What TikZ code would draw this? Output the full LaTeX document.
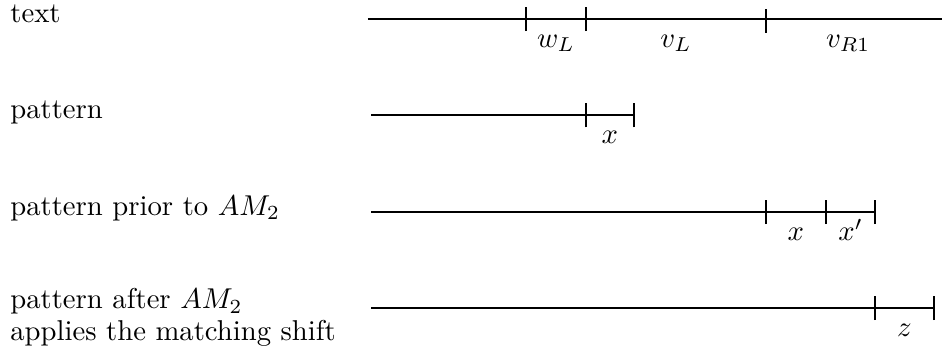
\documentclass[tikz,border=0pt]{standalone}
\usepackage{amsmath}
\tikzset{
  rowtext/.style={anchor=base west,inner sep=0pt,align=left},
  seglabel/.style={anchor=base,inner sep=0pt}
}

\begin{document}
\begin{tikzpicture}[line width=0.4pt]
  \useasboundingbox (0,0) rectangle (11.54,4.361);
  % text
  \begin{scope}[yshift=4.129cm]
    \node[rowtext] (txt) at (0.12,-0.04){text};
    \draw (4.508,0)--(11.54,0);
    \draw (6.444,-0.15)--(6.444,0.15);
    \draw (7.179,-0.15)--(7.179,0.15);
    \draw (9.384,-0.17)--(9.384,0.12);
    \node[seglabel] (wL) at (6.81,-0.35){$w_L$};
    \node[seglabel] (vL) at (8.28,-0.35){$v_L$};
    \node[seglabel] (vR) at (10.39,-0.35){$v_{R1}$};
  \end{scope}
  % pattern
  \begin{scope}[yshift=2.952cm]
    \node[rowtext] (pat) at (0.12,-0.04){pattern};
    \draw (4.545,0)--(7.767,0);
    \draw (7.179,-0.15)--(7.179,0.15);
    \draw (7.767,-0.15)--(7.767,0.15);
    \node[seglabel] (px) at (7.47,-0.35){$x$};
  \end{scope}
  % prior to AM2
  \begin{scope}[yshift=1.764cm]
    \node[rowtext] (pri) at (0.12,-0.04){pattern prior to $AM_2$};
    \draw (4.545,0)--(10.72,0);
    \draw (9.384,-0.15)--(9.384,0.15);
    \draw (10.119,-0.15)--(10.119,0.15);
    \draw (10.72,-0.15)--(10.72,0.15);
    \node[seglabel] (qx) at (9.75,-0.35){$x$};
    \node[seglabel] (qxp) at (10.42,-0.35){$x'$};
  \end{scope}
  % after AM2
  \begin{scope}[yshift=0.588cm]
    \node[rowtext] (aft) at (0.12,-0.40){pattern after $AM_2$\\[-0.9pt]applies the matching shift};
    \draw (4.545,0)--(11.442,0);
    \draw (10.72,-0.15)--(10.72,0.15);
    \draw (11.442,-0.15)--(11.442,0.15);
    \node[seglabel] (az) at (11.08,-0.35){$z$};
  \end{scope}
\end{tikzpicture}
\end{document}
